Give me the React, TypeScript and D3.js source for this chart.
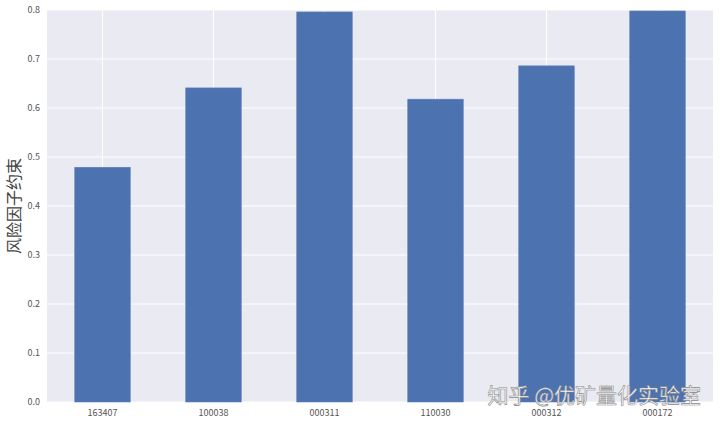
import React from "react";
import * as d3 from "d3";

const categories = ["163407", "100038", "000311", "110030", "000312", "000172"];
const values = [0.479, 0.641, 0.796, 0.618, 0.686, 0.798];
const yTicks = [0.0, 0.1, 0.2, 0.3, 0.4, 0.5, 0.6, 0.7, 0.8];
const yLabel = "风险因子约束";
const watermark = "知乎 @优矿量化实验室";

const W = 720;
const H = 424;
const M = { left: 47, right: 7, top: 10, bottom: 22 };

export default function App() {
  const x = d3
    .scaleBand<string>()
    .domain(categories)
    .range([M.left, W - M.right])
    .paddingInner(0.5)
    .paddingOuter(0.25);
  const y = d3.scaleLinear().domain([0, 0.8]).range([H - M.bottom, M.top]);
  const font = "'Noto Sans CJK SC', 'DejaVu Sans', sans-serif";
  return (
    <svg
      width={W}
      height={H}
      style={{ position: "absolute", left: 0, top: 0, background: "#fff" }}
    >
      <rect
        x={M.left}
        y={M.top}
        width={W - M.left - M.right}
        height={H - M.top - M.bottom}
        fill="#EAEAF2"
      />
      {yTicks.map((t) => (
        <line
          key={"gy" + t}
          x1={M.left}
          x2={W - M.right}
          y1={y(t)}
          y2={y(t)}
          stroke="#fff"
          strokeWidth={1}
        />
      ))}
      {categories.map((c) => (
        <line
          key={"gx" + c}
          x1={x(c)! + x.bandwidth() / 2}
          x2={x(c)! + x.bandwidth() / 2}
          y1={M.top}
          y2={H - M.bottom}
          stroke="#fff"
          strokeWidth={1}
        />
      ))}
      {categories.map((c, i) => (
        <rect
          key={"b" + c}
          x={x(c)!}
          y={y(values[i])}
          width={x.bandwidth()}
          height={y(0) - y(values[i])}
          fill="#4C72B0"
          stroke="#5A7FBC"
          strokeWidth={0.6}
        />
      ))}
      {yTicks.map((t) => (
        <text
          key={"ty" + t}
          x={M.left - 7}
          y={y(t)}
          dy="0.35em"
          textAnchor="end"
          fontSize={9}
          fill="#555"
          fontFamily={font}
        >
          {t.toFixed(1)}
        </text>
      ))}
      {categories.map((c) => (
        <text
          key={"tx" + c}
          x={x(c)! + x.bandwidth() / 2}
          y={H - M.bottom + 14}
          textAnchor="middle"
          fontSize={9}
          fill="#555"
          fontFamily={font}
        >
          {c}
        </text>
      ))}
      <text
        transform={`translate(20,${(M.top + H - M.bottom) / 2}) rotate(-90)`}
        textAnchor="middle"
        fontSize={16}
        fill="#444"
        fontFamily={font}
      >
        {yLabel}
      </text>
      <text
        x={701}
        y={403}
        textAnchor="end"
        fontSize={21}
        fill="#fff"
        stroke="#888"
        strokeWidth={0.6}
        fontFamily={font}
      >
        {watermark}
      </text>
    </svg>
  );
}
